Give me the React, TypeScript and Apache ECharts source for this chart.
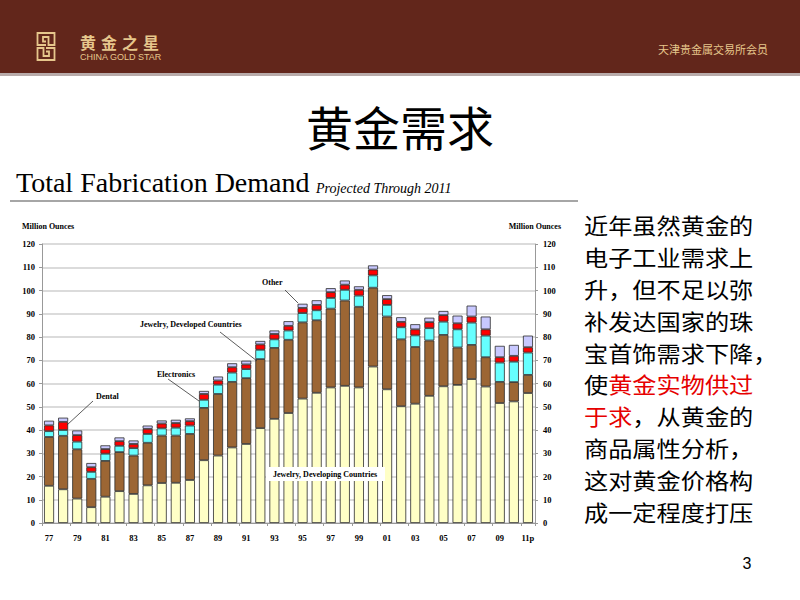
import React, { useEffect, useRef } from "react";
import * as echarts from "echarts";

const years = ["77","78","79","80","81","82","83","84","85","86","87","88","89","90","91","92","93","94","95","96","97","98","99","00","01","02","03","04","05","06","07","08","09","10","11p"];
const jewelryDeveloping = [16,14.5,10.5,6.8,11.3,13.7,12.5,16.2,17.2,17.3,18.5,27,29,32.5,34,40.8,44.8,47.3,53.5,56,58.3,59,58.3,67.3,57.5,50.2,51.3,54.7,58.8,59.4,61.9,58.7,51.6,52.3,55.9];
const jewelryDeveloped = [21,23,21.2,12.2,15.4,16.8,16.5,18.3,20.4,20.3,19.8,22.5,26.5,28.2,28.3,29.7,30.5,31.5,32.8,31.2,33.9,36.7,34.7,33.9,31.3,28.8,24.4,23.8,22.1,16.1,14.7,12.6,9.1,8.3,7.8];
const electronics = [2.5,2.5,3.3,3,3.1,2.7,3.2,3.8,3.1,3.4,3.6,3.5,4,4,3.9,4,3.7,4,4,4.3,4.6,4.6,4.8,5.3,5,5.2,5,5.3,5.7,7.8,9.6,9.3,8.3,8.8,9.6];
const dental = [2.5,3.5,2.8,2,2,2,1.8,2.2,2.1,2,1.9,2.5,1.8,2.3,2,2.3,2.3,2,2.2,2.3,2.5,2.2,2.5,2.5,2.5,2.3,2.6,2.6,2.8,2.6,2.6,2.7,2.3,2.5,2.3];
const other = [2,1.8,2,1.8,1.6,1.6,1.5,1.4,1.3,1.4,1.2,1.3,1.7,1.7,1.6,1.5,1.5,2,1.8,2,1.7,1.8,1.5,1.8,1.7,2,2.2,1.9,1.8,3.3,4.7,5.5,4.9,4.7,5];
const seriesNames = ["Jewelry, Developing Countries","Jewelry, Developed Countries","Electronics","Dental","Other"];
const seriesColors = ["#ffffc6","#9c6634","#66ffff","#ff0000","#c8c8ff"];
const yMin = 0;
const yMax = 120;
const yInterval = 10;
const bodyLines = ["近年虽然黄金的","电子工业需求上","升，但不足以弥","补发达国家的珠","宝首饰需求下降，","使{r|黄金实物供过}","{r|于求}，从黄金的","商品属性分析，","这对黄金价格构","成一定程度打压"];

const logoPath = "M10 13 H1.5 V1 H18.5 V13 H12.5 V5 H7 V9.5 H10 M10 16 H18.5 V28 H1.5 V16 H7.5 V24 H13 V19.5 H10";
try {
  echarts.graphic.registerShape("cgslogo", echarts.graphic.extendPath(logoPath, {}));
} catch (e) {}

export default function App() {
  const ref = useRef<HTMLDivElement>(null);
  useEffect(() => {
    if (!ref.current) return;
    const chart = echarts.init(ref.current, null, { renderer: "svg" });
    const serif = "Liberation Serif";
    const cjk = "Noto Sans CJK SC";
    const gold = "#e6c68c";
    const axisLabel = { fontFamily: serif, fontWeight: "bold" as const, fontSize: 8.5, color: "#000" };
    const seriesData = [jewelryDeveloping, jewelryDeveloped, electronics, dental, other];

    const textEl = (x: number, y: number, text: string, fontSize: number, fill: string, fontFamily: string, extra: any = {}, el: any = {}) => ({
      type: "text", x, y, z: 100, ...el,
      style: { text, fontSize, fill, fontFamily, textVerticalAlign: "middle", textAlign: "left", ...extra },
    });
    const lineEl = (x1: number, y1: number, x2: number, y2: number, stroke = "#333", lineWidth = 0.8) => ({
      type: "line", z: 100, shape: { x1, y1, x2, y2 }, style: { stroke, lineWidth },
    });

    const graphics: any[] = [
      { type: "rect", shape: { x: 0, y: 0, width: 800, height: 73 }, style: { fill: "#62261b" } },
      { type: "rect", shape: { x: 0, y: 73, width: 800, height: 3 }, style: { fill: "#b8abaa" } },
      { type: "cgslogo", x: 36, y: 32, style: { stroke: gold, fill: "none", lineWidth: 1.8 } },
      textEl(80, 42, "黄", 16, gold, cjk, { fontWeight: "bold" }),
      textEl(101, 42, "金", 16, gold, cjk, { fontWeight: "bold" }),
      textEl(122, 42, "之", 16, gold, cjk, { fontWeight: "bold" }),
      textEl(143, 42, "星", 16, gold, cjk, { fontWeight: "bold" }),
      textEl(80, 57, "CHINA GOLD STAR", 9, gold, "Liberation Sans"),
      textEl(658, 49, "天津贵金属交易所会员", 11, gold, cjk),
      textEl(400, 125, "黄金需求", 47, "#000", cjk, { textAlign: "center" }),
      { type: "text", x: 16, y: 196, z: 100, style: { text: "Total Fabrication Demand", fontSize: 28, fill: "#000", fontFamily: serif, textVerticalAlign: "bottom" } },
      { type: "text", x: 316, y: 195, z: 100, style: { text: "Projected Through 2011", fontSize: 14, fontStyle: "italic", fill: "#000", fontFamily: serif, textVerticalAlign: "bottom" } },
      lineEl(10, 201, 578, 201, "#a6a6a6", 2),
      textEl(22, 226, "Million Ounces", 8, "#000", serif, { fontWeight: "bold" }),
      textEl(561, 226, "Million Ounces", 8, "#000", serif, { fontWeight: "bold", textAlign: "right" }),
      textEl(262, 282, "Other", 8, "#000", serif, { fontWeight: "bold" }),
      lineEl(285, 290, 298, 303),
      textEl(140, 324, "Jewelry, Developed Countries", 8, "#000", serif, { fontWeight: "bold" }),
      lineEl(220, 332, 257, 361),
      textEl(157, 374, "Electronics", 8, "#000", serif, { fontWeight: "bold" }),
      lineEl(168, 379, 199, 401),
      textEl(96, 396, "Dental", 8, "#000", serif, { fontWeight: "bold" }),
      lineEl(93, 401, 67, 425),
      { type: "rect", z: 99, shape: { x: 266, y: 467, width: 119, height: 14 }, style: { fill: "#fff" } },
      textEl(325, 474, "Jewelry, Developing Countries", 8, "#000", serif, { fontWeight: "bold", textAlign: "center" }),
      textEl(747, 563, "3", 16, "#000", "Liberation Sans", { textAlign: "center" }),
    ];
    const lineY0 = 225;
    const lineStep = 31.8;
    bodyLines.forEach((t, i) => {
      graphics.push(textEl(584, lineY0 + i * lineStep, t, 21.6, "#000", cjk, {
        lineHeight: 24,
        rich: { r: { fill: "#e60000", fontSize: 21.6, fontFamily: cjk, lineHeight: 24 } },
      }, { scaleX: 1.12 }));
    });

    chart.setOption({
      animation: false,
      backgroundColor: "#fff",
      grid: { left: 42, right: 265, top: 244, bottom: 77 },
      xAxis: {
        type: "category",
        data: years,
        axisLine: { lineStyle: { color: "#999", width: 1 } },
        axisTick: { show: true, length: 3, lineStyle: { color: "#999" } },
        axisLabel: { ...axisLabel, interval: 1, margin: 10 },
      },
      yAxis: [
        {
          type: "value", position: "left", min: yMin, max: yMax, interval: yInterval,
          axisLine: { show: true, lineStyle: { color: "#999" } },
          axisTick: { show: true, length: 3, lineStyle: { color: "#999" } },
          axisLabel: { ...axisLabel, margin: 7 },
          splitLine: { lineStyle: { color: "#cfcfcf", width: 1.5 } },
        },
        {
          type: "value", position: "right", min: yMin, max: yMax, interval: yInterval,
          axisLine: { show: true, lineStyle: { color: "#999" } },
          axisTick: { show: true, length: 3, lineStyle: { color: "#999" } },
          axisLabel: { ...axisLabel, margin: 8 },
          splitLine: { show: false },
        },
      ],
      series: seriesNames.map((name, i) => ({
        name,
        type: "bar",
        stack: "total",
        barWidth: 10,
        data: seriesData[i],
        itemStyle: { color: seriesColors[i], borderColor: "#2b2b2b", borderWidth: 0.8 },
      })),
      graphic: graphics,
    });
    return () => chart.dispose();
  }, []);
  return <div ref={ref} style={{ position: "fixed", left: 0, top: 0, width: 800, height: 600 }} />;
}
